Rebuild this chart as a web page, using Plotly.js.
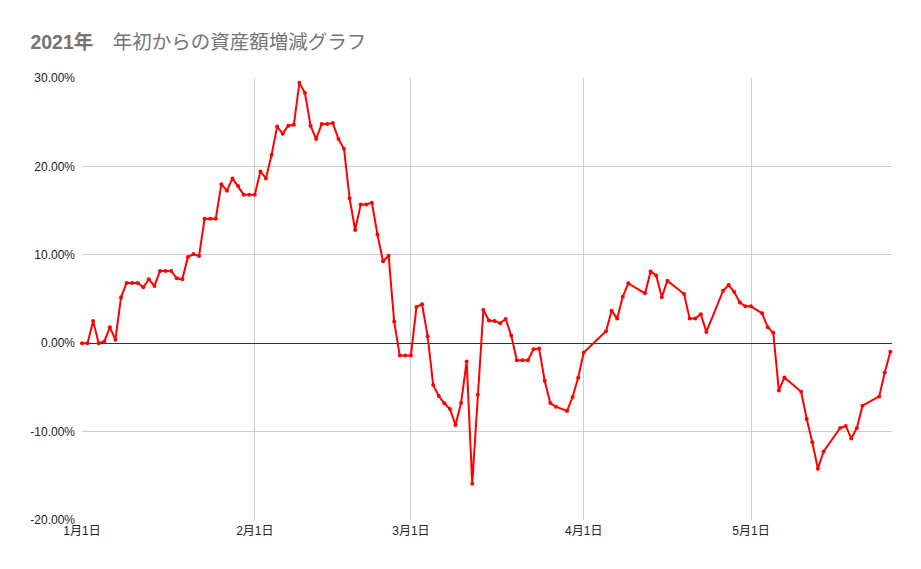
<!DOCTYPE html>
<html>
<head>
<meta charset="utf-8">
<script src="https://cdn.plot.ly/plotly-3.0.1.min.js"></script>
<style>
  html, body { margin: 0; padding: 0; background: #fff; }
  #graph { width: 921px; height: 569px; }
</style>
</head>
<body>
<div id="graph"></div>
<script>
// 日付（資産額の記録日）
var dates = [
  '2021-01-01','2021-01-02','2021-01-03','2021-01-04','2021-01-05','2021-01-06','2021-01-07',
  '2021-01-08','2021-01-09','2021-01-10','2021-01-11','2021-01-12','2021-01-13','2021-01-14',
  '2021-01-15','2021-01-16','2021-01-17','2021-01-18','2021-01-19','2021-01-20','2021-01-21',
  '2021-01-22','2021-01-23','2021-01-24','2021-01-25','2021-01-26','2021-01-27','2021-01-28',
  '2021-01-29','2021-01-30','2021-01-31',
  '2021-02-01','2021-02-02','2021-02-03','2021-02-04','2021-02-05','2021-02-06','2021-02-07',
  '2021-02-08','2021-02-09','2021-02-10','2021-02-11','2021-02-12','2021-02-13','2021-02-14',
  '2021-02-15','2021-02-16','2021-02-17','2021-02-18','2021-02-19','2021-02-20','2021-02-21',
  '2021-02-22','2021-02-23','2021-02-24','2021-02-25','2021-02-26','2021-02-27','2021-02-28',
  '2021-03-01','2021-03-02','2021-03-03','2021-03-04','2021-03-05','2021-03-06','2021-03-07',
  '2021-03-08','2021-03-09','2021-03-10','2021-03-11','2021-03-12','2021-03-13','2021-03-14',
  '2021-03-15','2021-03-16','2021-03-17','2021-03-18','2021-03-19','2021-03-20','2021-03-21',
  '2021-03-22','2021-03-23','2021-03-24','2021-03-25','2021-03-26','2021-03-27',
  '2021-03-29','2021-03-30','2021-03-31',
  '2021-04-01','2021-04-05','2021-04-06','2021-04-07','2021-04-08','2021-04-09',
  '2021-04-12','2021-04-13','2021-04-14','2021-04-15','2021-04-16',
  '2021-04-19','2021-04-20','2021-04-21','2021-04-22','2021-04-23',
  '2021-04-26','2021-04-27','2021-04-28','2021-04-29','2021-04-30','2021-05-01',
  '2021-05-03','2021-05-04','2021-05-05','2021-05-06','2021-05-07',
  '2021-05-10','2021-05-11','2021-05-12','2021-05-13','2021-05-14',
  '2021-05-17','2021-05-18','2021-05-19','2021-05-20','2021-05-21',
  '2021-05-24','2021-05-25','2021-05-26'
];

// 年初からの増減率（%）
var changes = [
  0.0, 0.0, 2.52, 0.0, 0.2, 1.8, 0.4,
  5.16, 6.82, 6.82, 6.82, 6.33, 7.23, 6.48,
  8.17, 8.17, 8.17, 7.34, 7.23, 9.75, 10.09,
  9.87, 14.09, 14.09, 14.09, 17.97, 17.25, 18.64,
  17.78, 16.8, 16.8,
  16.8, 19.43, 18.64, 21.28, 24.5, 23.7, 24.6,
  24.7, 29.45, 28.3, 24.6, 23.1, 24.8, 24.8,
  24.9, 23.1, 22.0, 16.4, 12.8, 15.7, 15.7,
  15.9, 12.3, 9.27, 9.9, 2.45, -1.39, -1.39,
  -1.39, 4.1, 4.4, 0.8, -4.74, -5.98, -6.8,
  -7.44, -9.25, -6.77, -2.07, -15.9, -5.83, 3.76,
  2.56, 2.52, 2.26, 2.74, 0.86, -1.92, -1.92,
  -1.92, -0.68, -0.6, -4.25, -6.77, -7.18,
  -7.67, -6.09, -3.91,
  -1.05, 1.35, 3.68, 2.78, 5.26, 6.77,
  5.64, 8.12, 7.67, 5.19, 7.07,
  5.56, 2.78, 2.78, 3.27, 1.28,
  5.94, 6.58, 5.79, 4.59, 4.17, 4.17,
  3.38, 1.8, 1.17, -5.34, -3.87,
  -5.49, -8.57, -11.2, -14.2, -12.26,
  -9.59, -9.36, -10.79, -9.59, -7.07,
  -6.02, -3.31, -0.98
];

var monthTicks = ['2021-01-01', '2021-02-01', '2021-03-01', '2021-04-01', '2021-05-01'];
var monthLabels = ['1月1日', '2月1日', '3月1日', '4月1日', '5月1日'];
var yTicks = [-20, -10, 0, 10, 20, 30];
var yLabels = yTicks.map(function (v) { return v.toFixed(2) + '%'; });

var tickFont = {
  family: '"Liberation Sans", Arial, "Noto Sans CJK JP", sans-serif',
  size: 12,
  color: '#222222'
};

var trace = {
  x: dates,
  y: changes,
  type: 'scatter',
  mode: 'lines+markers',
  line: { color: '#ff0000', width: 2 },
  marker: { color: '#ff0000', size: 4 },
  cliponaxis: false,
  hoverinfo: 'x+y'
};

var layout = {
  width: 921,
  height: 569,
  margin: { l: 82, r: 29, t: 78, b: 49 },
  paper_bgcolor: '#ffffff',
  plot_bgcolor: '#ffffff',
  showlegend: false,
  title: {
    text: '<b>2021年</b>　年初からの資産額増減グラフ',
    font: {
      family: '"Liberation Sans", Arial, "Noto Sans CJK JP", sans-serif',
      size: 19.5,
      color: '#757575'
    },
    xref: 'container',
    x: 0.033,
    xanchor: 'left',
    yref: 'container',
    y: 0.926,
    yanchor: 'middle'
  },
  xaxis: {
    type: 'date',
    range: ['2021-01-01', '2021-05-26 07:00'],
    tickvals: monthTicks,
    ticktext: monthLabels,
    showgrid: true,
    gridcolor: '#cccccc',
    gridwidth: 1,
    zeroline: false,
    showline: false,
    ticks: '',
    tickfont: tickFont,
    ticklabelstandoff: 2
  },
  yaxis: {
    range: [-20, 30],
    tickvals: yTicks,
    ticktext: yLabels,
    showgrid: true,
    gridcolor: '#cccccc',
    gridwidth: 1,
    zeroline: true,
    zerolinecolor: '#333333',
    zerolinewidth: 1,
    showline: false,
    ticks: '',
    tickfont: tickFont,
    ticklabelstandoff: 6
  }
};

Plotly.newPlot('graph', [trace], layout, { displayModeBar: false, staticPlot: true });
</script>
</body>
</html>
